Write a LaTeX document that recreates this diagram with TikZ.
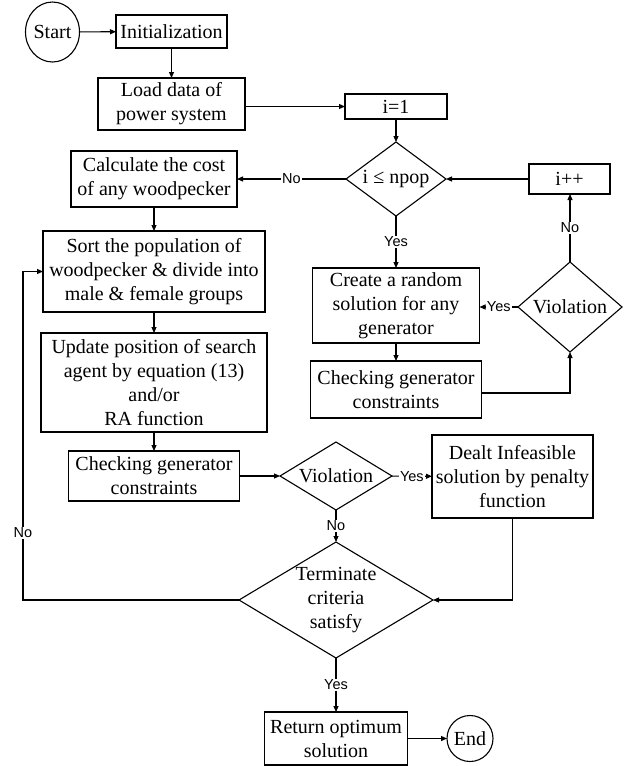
\documentclass[tikz,border=0pt]{standalone}
\usepackage{fontspec}
\setmainfont{Liberation Serif}
\newfontfamily\labfont{Liberation Sans}
\usetikzlibrary{shapes.geometric,arrows.meta}
\begin{document}
\begin{tikzpicture}[x=1pt,y=-1pt,
  font=\fontsize{20}{24}\selectfont,
  ln/.style={line width=1.1pt},
  box/.style={draw, ln, rectangle, inner sep=0pt, outer sep=0pt, align=center},
  dia/.style={draw, ln, diamond, inner sep=0pt, outer sep=0pt},
  lbl/.style={fill=white, inner sep=1pt, font=\labfont\fontsize{14.5}{16}\selectfont},
  arr/.style={ln, -{Triangle[length=6pt,width=5pt]}}]
\useasboundingbox (0,0) rectangle (625,766);
% nodes
\node[draw, ln, ellipse, inner sep=0pt, outer sep=0pt, minimum width=54pt, minimum height=60pt, label=center:Start] (start) at (52.5,32) {};
\node[box, minimum width=111pt, minimum height=33pt] (init) at (171.5,31.5) {Initialization};
\node[box, minimum width=147pt, minimum height=52pt] (load) at (171.5,104) {Load data of\\power system};
\node[box, minimum width=102pt, minimum height=25pt] (i1) at (396,106.5) {i=1};
\node[dia, minimum width=100pt, minimum height=74pt, label=center:{i ≤ npop}] (npop) at (396,179) {};
\node[box, minimum width=81pt, minimum height=30pt] (ipp) at (569.5,179) {i++};
\node[box, minimum width=166pt, minimum height=56pt] (calc) at (154,179) {Calculate the cost\\of any woodpecker};
\node[box, minimum width=222pt, minimum height=81pt] (sort) at (154,271.5) {Sort the population of\\woodpecker \& divide into\\male \& female groups};
\node[box, minimum width=226pt, minimum height=99pt] (update) at (154,382.5) {Update position of search\\agent by equation (13)\\and/or\\RA function};
\node[box, minimum width=171pt, minimum height=50pt] (checkL) at (154,476) {Checking generator\\constraints};
\node[dia, minimum width=112pt, minimum height=68pt, label=center:Violation] (vioL) at (336,476) {};
\node[box, minimum width=161pt, minimum height=83pt] (dealt) at (512.5,476.5) {Dealt Infeasible\\solution by penalty\\function};
\node[dia, minimum width=194pt, minimum height=116pt, label={[align=center]center:Terminate\\criteria\\satisfy}] (term) at (336,600) {};
\node[box, minimum width=143pt, minimum height=53pt] (ret) at (336,738.5) {Return optimum\\solution};
\node[draw, ln, circle, inner sep=0pt, outer sep=0pt, minimum size=46pt, label=center:End] (endn) at (470,738.5) {};
\node[box, minimum width=167pt, minimum height=75pt] (create) at (396,305.5) {Create a random\\solution for any\\generator};
\node[box, minimum width=171pt, minimum height=57pt] (checkR) at (396,389.5) {Checking generator\\constraints};
\node[dia, minimum width=104pt, minimum height=90pt, label=center:Violation] (vioR) at (570,307) {};
\coordinate (lc1) at (23,600);
\coordinate (lc2) at (23,271.5);
% connectors
\draw[arr] (start) -- (init);
\draw[arr] (init) -- (load);
\draw[arr] (load.east |- i1) -- (i1.west);
\draw[arr] (i1) -- (npop);
\draw[arr] (ipp) -- (npop);
\draw[arr] (npop) -- node[lbl]{No} (calc);
\draw[arr] (npop) -- node[lbl]{Yes} (create);
\draw[arr] (create) -- (checkR);
\draw[arr] ([yshift=-3.5pt]checkR.east) -| (vioR.south);
\draw[arr] (vioR.west) -- node[lbl]{Yes} (vioR.west -| create.east);
\draw[arr] (vioR.north) -- node[lbl]{No} (vioR.north |- ipp.south);
\draw[arr] (calc) -- (sort);
\draw[arr] (sort) -- (update);
\draw[arr] (update) -- (checkL);
\draw[arr] (checkL) -- (vioL);
\draw[arr] (vioL) -- node[lbl]{Yes} (dealt);
\draw[arr] (vioL) -- node[lbl]{No} (term);
\draw[arr] (dealt.south) |- (term.east);
\draw[arr] (term.west) -- (lc1) -- node[lbl,pos=0.204]{No} (lc2) -- (sort.west);
\draw[arr] (term) -- node[lbl]{Yes} (ret);
\draw[arr] (ret) -- (endn);
\end{tikzpicture}
\end{document}
